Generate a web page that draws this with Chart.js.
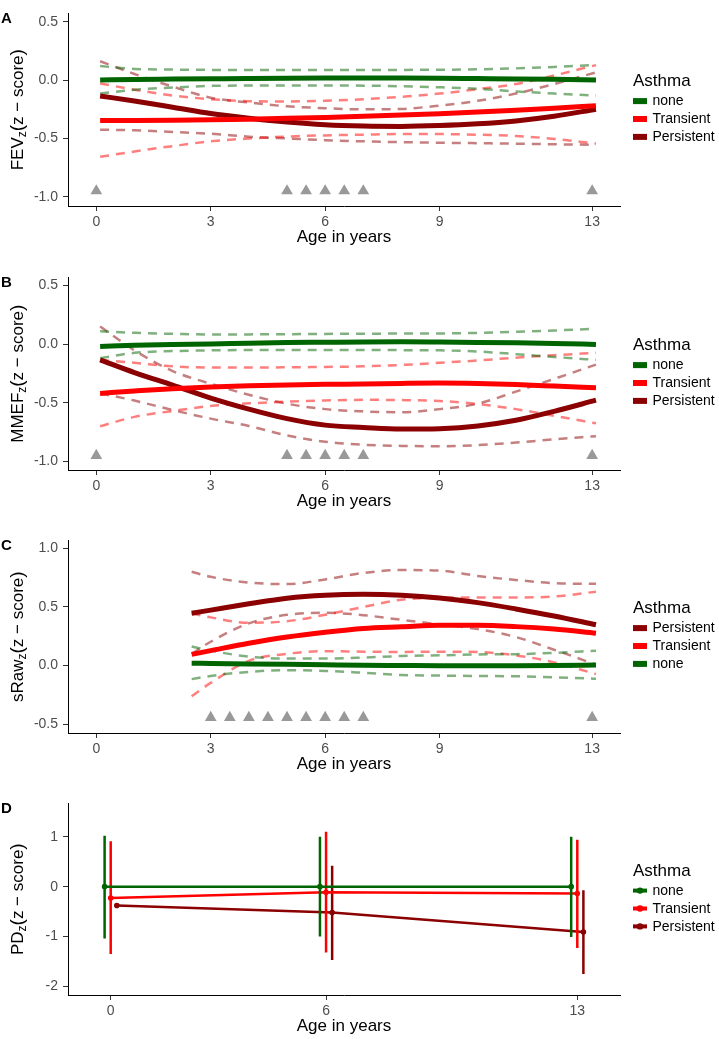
<!DOCTYPE html>
<html>
<head>
<meta charset="utf-8">
<script src="https://cdn.jsdelivr.net/npm/chart.js@4.4.1/dist/chart.umd.min.js"></script>
<style>
  html, body { margin: 0; padding: 0; background: #fff; }
  body { width: 719px; height: 1039px; position: relative; overflow: hidden; }
  canvas { position: absolute; left: 0; }
</style>
</head>
<body>
<canvas id="panelA" width="719" height="250" style="top:0px"></canvas>
<canvas id="panelB" width="719" height="250" style="top:264px"></canvas>
<canvas id="panelC" width="719" height="250" style="top:527px"></canvas>
<canvas id="panelD" width="719" height="249" style="top:790px"></canvas>
<script>
const ageFitAB = [0.1, 1, 2, 3, 4, 5, 6, 7, 8, 9, 10, 11, 12, 13.1];
const ageFitC = [2.5, 3, 4, 5, 6, 7, 8, 9, 10, 11, 12, 13.1];

const xTicksABC = [0, 3, 6, 9, 13];
const xTicksD = [0, 6, 13];
const yTicksAB = [-1, -0.5, 0, 0.5];
const yTicksC = [-0.5, 0, 0.5, 1];
const yTicksD = [-2, -1, 0, 1];

// measurement visits (grey triangles)
const visitsAB = [0, 5, 5.5, 6, 6.5, 7, 13];
const visitYAB = [-0.95, -0.95, -0.95, -0.95, -0.95, -0.95, -0.95];
const visitsC = [3, 3.5, 4, 4.5, 5, 5.5, 6, 6.5, 7, 13];
const visitYC = [-0.445, -0.445, -0.445, -0.445, -0.445, -0.445, -0.445, -0.445, -0.445, -0.445];

// A: FEV
const fevNone = [0.0, 0.005, 0.008, 0.011, 0.014, 0.016, 0.017, 0.017, 0.017, 0.016, 0.013, 0.01, 0.006, 0.0];
const fevNoneLo = [-0.116, -0.083, -0.064, -0.05, -0.047, -0.046, -0.046, -0.048, -0.053, -0.062, -0.075, -0.097, -0.116, -0.132];
const fevNoneHi = [0.12, 0.095, 0.09, 0.087, 0.086, 0.086, 0.086, 0.086, 0.087, 0.088, 0.092, 0.1, 0.112, 0.13];
const fevTrans = [-0.347, -0.346, -0.344, -0.34, -0.335, -0.328, -0.32, -0.311, -0.3, -0.288, -0.274, -0.259, -0.242, -0.22];
const fevTransLo = [-0.658, -0.612, -0.566, -0.525, -0.501, -0.484, -0.474, -0.468, -0.463, -0.463, -0.468, -0.479, -0.504, -0.544];
const fevTransHi = [-0.029, -0.083, -0.132, -0.164, -0.181, -0.183, -0.178, -0.164, -0.143, -0.116, -0.078, -0.034, 0.039, 0.128];
const fevPers = [-0.136, -0.18, -0.233, -0.287, -0.327, -0.36, -0.383, -0.394, -0.397, -0.39, -0.375, -0.35, -0.31, -0.25];
const fevPersLo = [-0.426, -0.43, -0.445, -0.46, -0.485, -0.5, -0.515, -0.525, -0.532, -0.537, -0.541, -0.545, -0.55, -0.555];
const fevPersHi = [0.161, 0.052, -0.056, -0.151, -0.192, -0.225, -0.241, -0.251, -0.247, -0.219, -0.178, -0.116, -0.034, 0.066];

// B: MMEF
const mmefNone = [-0.02, -0.01, -0.003, 0.0, 0.007, 0.012, 0.015, 0.018, 0.019, 0.017, 0.014, 0.01, 0.005, -0.003];
const mmefNoneLo = [-0.12, -0.075, -0.06, -0.054, -0.051, -0.05, -0.05, -0.051, -0.052, -0.054, -0.064, -0.086, -0.11, -0.135];
const mmefNoneHi = [0.108, 0.095, 0.087, 0.081, 0.082, 0.084, 0.086, 0.088, 0.089, 0.09, 0.095, 0.104, 0.115, 0.13];
const mmefTrans = [-0.42, -0.4, -0.38, -0.365, -0.355, -0.348, -0.343, -0.34, -0.335, -0.332, -0.336, -0.345, -0.358, -0.373];
const mmefTransLo = [-0.7, -0.62, -0.57, -0.527, -0.505, -0.49, -0.48, -0.475, -0.477, -0.485, -0.51, -0.554, -0.61, -0.675];
const mmefTransHi = [-0.135, -0.16, -0.19, -0.2, -0.2, -0.198, -0.195, -0.19, -0.178, -0.16, -0.14, -0.116, -0.095, -0.075];
const mmefPers = [-0.135, -0.243, -0.35, -0.46, -0.554, -0.635, -0.69, -0.71, -0.724, -0.72, -0.697, -0.649, -0.573, -0.478];
const mmefPersLo = [-0.42, -0.481, -0.562, -0.635, -0.697, -0.778, -0.832, -0.857, -0.867, -0.87, -0.86, -0.838, -0.811, -0.784];
const mmefPersHi = [0.149, -0.054, -0.23, -0.338, -0.432, -0.508, -0.554, -0.573, -0.581, -0.554, -0.508, -0.405, -0.297, -0.175];

// C: sRaw
const srawNone = [0.02, 0.018, 0.014, 0.01, 0.006, 0.002, 0.0, -0.002, -0.002, -0.002, 0.0, 0.005];
const srawNoneLo = [-0.116, -0.089, -0.054, -0.04, -0.046, -0.062, -0.081, -0.086, -0.089, -0.092, -0.1, -0.113];
const srawNoneHi = [0.162, 0.127, 0.076, 0.06, 0.06, 0.068, 0.081, 0.087, 0.095, 0.097, 0.108, 0.127];
const srawTrans = [0.095, 0.127, 0.19, 0.243, 0.284, 0.316, 0.33, 0.343, 0.343, 0.332, 0.311, 0.276];
const srawTransLo = [-0.262, -0.148, 0.04, 0.1, 0.122, 0.118, 0.116, 0.118, 0.115, 0.087, 0.027, -0.073];
const srawTransHi = [0.446, 0.411, 0.365, 0.378, 0.433, 0.5, 0.562, 0.578, 0.581, 0.581, 0.589, 0.63];
const srawPers = [0.446, 0.473, 0.527, 0.575, 0.6, 0.608, 0.6, 0.577, 0.537, 0.483, 0.423, 0.348];
const srawPersLo = [0.1, 0.203, 0.36, 0.433, 0.45, 0.43, 0.39, 0.351, 0.311, 0.243, 0.135, 0.008];
const srawPersHi = [0.8, 0.757, 0.708, 0.695, 0.735, 0.79, 0.815, 0.81, 0.765, 0.73, 0.703, 0.697];

// D: PD (mean and interval per visit)
const pdAges = [0, 6, 13];
const pdNone = [0, 0, 0];
const pdNoneLo = [-1.04, -1.0, -1.01];
const pdNoneHi = [1.02, 1.0, 1.0];
const pdTrans = [-0.226, -0.113, -0.138];
const pdTransLo = [-1.35, -1.32, -1.23];
const pdTransHi = [0.91, 1.1, 0.94];
const pdPers = [-0.377, -0.52, -0.91];
const pdPersLo = [null, -1.47, -1.75];
const pdPersHi = [null, 0.42, -0.07];

const fontFamily = '"Liberation Sans", Arial, Helvetica, sans-serif';
Chart.defaults.font.family = fontFamily;

const colors = { none: '#006400', Transient: '#ff0000', Persistent: '#8b0000' };
const ciColors = { none: 'rgba(0,100,0,0.5)', Transient: 'rgba(255,0,0,0.5)', Persistent: 'rgba(139,0,0,0.5)' };
const dodge = { none: -0.17, Transient: 0, Persistent: 0.17 };

function pts(xs, ys) {
  return xs.map((x, i) => ({ x: x, y: ys[i] }));
}

function fitDatasets(ages, fits, visits, visitY) {
  const sets = [];
  Object.keys(fits).forEach(g => {
    const [mid, lo, hi] = fits[g];
    sets.push({ data: pts(ages, mid), borderColor: colors[g], borderWidth: 5, order: 1 });
    [lo, hi].forEach(band => {
      sets.push({ data: pts(ages, band), borderColor: ciColors[g], borderWidth: 2.5, borderDash: [9, 7], order: 2 });
    });
  });
  sets.forEach(s => {
    s.pointRadius = 0;
    s.cubicInterpolationMode = 'monotone';
    s.fill = false;
  });
  sets.push({
    data: pts(visits, visitY), showLine: false, pointStyle: 'triangle', pointRadius: 6.8,
    pointBackgroundColor: '#999999', pointBorderWidth: 0, order: 3
  });
  return sets;
}

function pdDatasets(groups) {
  const sets = [];
  Object.keys(groups).forEach(g => {
    const [mean, lo, hi] = groups[g];
    const xs = pdAges.map(a => a + dodge[g]);
    sets.push({
      data: pts(xs, mean), borderColor: colors[g], borderWidth: 2.5,
      pointRadius: 2.8, pointBackgroundColor: colors[g], pointBorderWidth: 0, tension: 0
    });
    const bars = [];
    xs.forEach((x, i) => {
      if (lo[i] == null) return;
      bars.push({ x: x, y: lo[i] }, { x: x, y: hi[i] }, { x: x, y: null });
    });
    sets.push({ data: bars, borderColor: colors[g], borderWidth: 2.5, pointRadius: 0, spanGaps: false });
  });
  return sets;
}

// y title with subscript, panel letter and the legend
function decor(letter, measure, legendGroups, pointKey) {
  return {
    id: 'decor' + letter,
    afterDraw(chart) {
      const { ctx, chartArea: a } = chart;
      const cy = (a.top + a.bottom) / 2;
      ctx.save();
      ctx.fillStyle = '#000';
      ctx.textAlign = 'left';
      ctx.textBaseline = 'alphabetic';
      ctx.font = 'bold 15px ' + fontFamily;
      ctx.fillText(letter, 1, a.top + 9.7);

      const parts = [[measure, 17, 0], ['z', 12, 3.5], ['(', 19, 0.5], ['z \u2212 score', 17, 0], [')', 19, 0.5]];
      let total = 0;
      parts.forEach(p => {
        ctx.font = p[1] + 'px ' + fontFamily;
        p.push(ctx.measureText(p[0]).width);
        total += p[3];
      });
      ctx.save();
      ctx.translate(22.5, cy);
      ctx.rotate(-Math.PI / 2);
      let x = -total / 2;
      parts.forEach(p => {
        ctx.font = p[1] + 'px ' + fontFamily;
        ctx.fillText(p[0], x, p[2]);
        x += p[3];
      });
      ctx.restore();

      const x0 = a.right + 13;
      ctx.font = '17px ' + fontFamily;
      ctx.fillText('Asthma', x0, cy - 23.5);
      ctx.font = '14px ' + fontFamily;
      ctx.textBaseline = 'middle';
      legendGroups.forEach((g, i) => {
        const ky = cy - 8.6 + i * 17.9;
        ctx.fillStyle = colors[g];
        if (pointKey) {
          ctx.fillRect(x0, ky - 2, 14, 4);
          ctx.beginPath();
          ctx.arc(x0 + 7, ky, 3.2, 0, Math.PI * 2);
          ctx.fill();
        } else {
          ctx.fillRect(x0, ky - 3, 14, 6);
        }
        ctx.fillStyle = '#000';
        ctx.fillText(g, x0 + 19.5, ky + 0.5);
      });
      ctx.restore();
    }
  };
}

function panelOptions(xRange, yRange, xTicks, yTicks, yDigits) {
  const tickFont = { size: 14, family: fontFamily };
  return {
    animation: false,
    responsive: false,
    events: [],
    layout: { padding: { top: 3, right: 99, left: 0, bottom: 0 } },
    plugins: { legend: { display: false }, tooltip: { enabled: false } },
    scales: {
      x: {
        type: 'linear', min: xRange[0], max: xRange[1],
        afterFit: s => { s.height = 44; },
        afterBuildTicks: s => { s.ticks = xTicks.map(v => ({ value: v })); },
        grid: { drawOnChartArea: false, drawTicks: true, tickLength: 5, tickColor: '#333333' },
        border: { display: true, color: '#000000', width: 1 },
        ticks: { font: tickFont, color: '#4d4d4d', padding: 3, autoSkip: false, maxRotation: 0, callback: v => String(v) },
        title: { display: true, text: 'Age in years', color: '#000000', font: { size: 17, family: fontFamily }, padding: { top: 0, bottom: 2 } }
      },
      y: {
        type: 'linear', min: yRange[0], max: yRange[1],
        afterFit: s => { s.width = 68; },
        afterBuildTicks: s => { s.ticks = yTicks.map(v => ({ value: v })); },
        grid: { drawOnChartArea: false, drawTicks: true, tickLength: 5, tickColor: '#333333' },
        border: { display: true, color: '#000000', width: 1 },
        ticks: { font: tickFont, color: '#4d4d4d', padding: 5, callback: v => v.toFixed(yDigits) }
      }
    }
  };
}

const xRangeABC = [-0.742, 13.73];

new Chart(document.getElementById('panelA'), {
  type: 'line',
  data: {
    datasets: fitDatasets(ageFitAB, {
      none: [fevNone, fevNoneLo, fevNoneHi],
      Transient: [fevTrans, fevTransLo, fevTransHi],
      Persistent: [fevPers, fevPersLo, fevPersHi]
    }, visitsAB, visitYAB)
  },
  options: panelOptions(xRangeABC, [-1.079, 0.571], xTicksABC, yTicksAB, 1),
  plugins: [decor('A', 'FEV', ['none', 'Transient', 'Persistent'], false)]
});

new Chart(document.getElementById('panelB'), {
  type: 'line',
  data: {
    datasets: fitDatasets(ageFitAB, {
      none: [mmefNone, mmefNoneLo, mmefNoneHi],
      Transient: [mmefTrans, mmefTransLo, mmefTransHi],
      Persistent: [mmefPers, mmefPersLo, mmefPersHi]
    }, visitsAB, visitYAB)
  },
  options: panelOptions(xRangeABC, [-1.072, 0.567], xTicksABC, yTicksAB, 1),
  plugins: [decor('B', 'MMEF', ['none', 'Transient', 'Persistent'], false)]
});

new Chart(document.getElementById('panelC'), {
  type: 'line',
  data: {
    datasets: fitDatasets(ageFitC, {
      none: [srawNone, srawNoneLo, srawNoneHi],
      Transient: [srawTrans, srawTransLo, srawTransHi],
      Persistent: [srawPers, srawPersLo, srawPersHi]
    }, visitsC, visitYC)
  },
  options: panelOptions(xRangeABC, [-0.576, 1.068], xTicksABC, yTicksC, 1),
  plugins: [decor('C', 'sRaw', ['Persistent', 'Transient', 'none'], false)]
});

new Chart(document.getElementById('panelD'), {
  type: 'line',
  data: {
    datasets: pdDatasets({
      none: [pdNone, pdNoneLo, pdNoneHi],
      Transient: [pdTrans, pdTransLo, pdTransHi],
      Persistent: [pdPers, pdPersLo, pdPersHi]
    })
  },
  options: panelOptions([-1.19, 14.19], [-2.17, 1.667], xTicksD, yTicksD, 0),
  plugins: [decor('D', 'PD', ['none', 'Transient', 'Persistent'], true)]
});
</script>
</body>
</html>
